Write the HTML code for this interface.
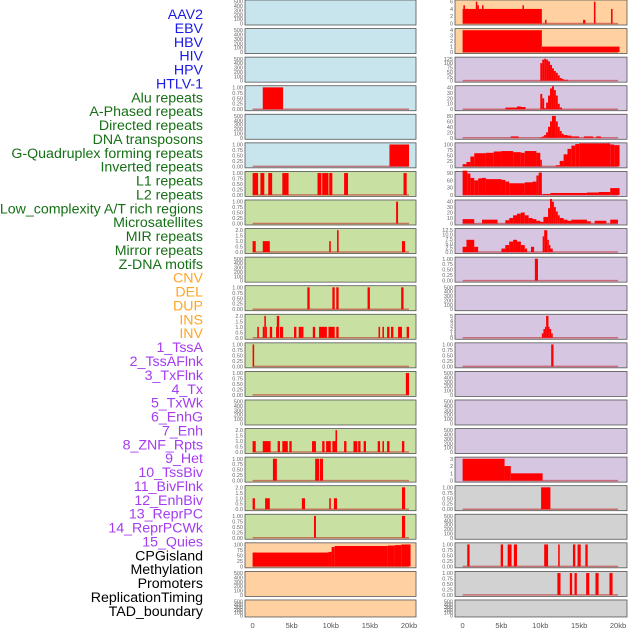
<!DOCTYPE html>
<html><head><meta charset="utf-8"><style>
html,body{margin:0;padding:0;background:#fff;}
svg{display:block;font-family:"Liberation Sans",sans-serif;}
</style></head><body>
<svg id="chart" width="630" height="630" viewBox="0 0 630 630"></svg>
<script>
// ---- data ----
const labels = ["AAV2","EBV","HBV","HIV","HPV","HTLV-1","Alu repeats","A-Phased repeats","Directed repeats","DNA transposons","G-Quadruplex forming repeats","Inverted repeats","L1 repeats","L2 repeats","Low_complexity A/T rich regions","Microsatellites","MIR repeats","Mirror repeats","Z-DNA motifs","CNV","DEL","DUP","INS","INV","1_TssA","2_TssAFlnk","3_TxFlnk","4_Tx","5_TxWk","6_EnhG","7_Enh","8_ZNF_Rpts","9_Het","10_TssBiv","11_BivFlnk","12_EnhBiv","13_ReprPC","14_ReprPCWk","15_Quies","CPGisland","Methylation","Promoters","ReplicationTiming","TAD_boundary"];
const labelGroups = ["virus","virus","virus","virus","virus","virus","repeat","repeat","repeat","repeat","repeat","repeat","repeat","repeat","repeat","repeat","repeat","repeat","repeat","sv","sv","sv","sv","sv","chrom","chrom","chrom","chrom","chrom","chrom","chrom","chrom","chrom","chrom","chrom","chrom","chrom","chrom","chrom","other","other","other","other","other"];
const xTicks = [0,5,10,15,20];
const xTickLabels = ["0","5kb","10kb","15kb","20kb"];
const leftBg  = ["blue","blue","blue","blue","blue","blue","green","green","green","green","green","green","green","green","green","green","green","green","green","orange","orange","orange"];
const rightBg = ["orange","orange","lav","lav","lav","lav","lav","lav","lav","lav","lav","lav","lav","lav","lav","lav","lav","gray","gray","gray","gray","gray"];
const T500=[0,100,200,300,400,500], T1=[0,0.25,0.5,0.75,1.0], T2=[0,0.5,1.0,1.5,2.0];
const leftTicks = [T500,T500,T500,T1,T500,T1,T1,T1,T2,T500,T1,T2,T1,T1,T500,T2,T1,T2,T1,[0,25,50,75,100],T500,T500];
const rightTicks = [[0,2,4,6],[0,1,2,3,4],[0,25,50,75,100,125],[0,10,20,30,40],[0,20,40,60,80],[0,25,50,75,100],[0,30,60,90],[0,10,20,30,40],[0,2.5,5,7.5,10,12.5],T1,T500,[0,1,2,3,4,5],T1,T500,T500,T500,[0,1,2,3],T1,T500,T1,T1,T500];
const leftTickFmt = [0,0,0,2,0,2,2,2,1,0,2,1,2,2,0,1,2,1,2,0,0,0];
const rightTickFmt = [0,0,0,0,0,0,0,0,1,2,0,0,2,0,0,0,0,2,0,2,2,0];
// segments [startKb, endKb, value]
const leftSegs = [
 [],[],[],
 [[1.3,3.9,1]],
 [],
 [[17.5,20,1]],
 [[0,0.7,1],[1.0,1.5,1],[2.0,2.5,1],[3.8,4.6,1],[8.3,8.8,1],[8.9,9.7,1],[9.8,10.2,1],[11.7,12.2,1],[19.3,19.7,1]],
 [[18.35,18.6,1]],
 [[0,0.4,1],[1.3,2.2,1],[9.8,10.0,1],[10.8,11.0,2],[19.1,19.5,1]],
 [],
 [[7.0,7.3,1],[10.2,10.5,1],[10.7,11.0,1],[14.7,15.0,1],[19.0,19.3,1]],
 [[0.6,0.8,1],[1.3,1.5,1],[1.5,1.7,2],[1.7,1.8,1],[2.2,2.5,1],[3.0,3.1,1],[3.1,3.4,2],[3.5,3.9,1],[5.3,5.6,1],[5.9,6.2,1],[6.2,6.5,1],[7.7,8.0,1],[8.5,9.5,1],[9.7,10.5,1],[10.7,11.0,1],[16.1,16.3,1],[16.6,16.8,1],[17.2,17.5,1],[17.7,18.0,1],[18.6,19.1,1],[19.7,20.0,1]],
 [[0,0.2,1]],
 [[19.6,20.0,1]],
 [],
 [[0,0.4,1],[1.3,2.3,1],[3.2,3.5,1],[3.8,4.5,1],[4.7,5.0,1],[7.6,8.1,1],[8.9,9.2,1],[9.4,10.0,1],[10.2,10.6,1],[10.6,10.8,2],[11.7,12.0,1],[12.9,13.4,1],[13.5,13.8,1],[14.2,14.5,1],[16.0,16.3,1],[16.6,16.8,1],[17.2,17.5,1],[19.1,19.4,1]],
 [[2.6,3.1,1],[8.0,8.5,1],[8.6,9.0,1]],
 [[0,0.3,1],[1.6,2.2,1],[6.3,6.7,1],[9.8,10.0,1],[10.4,10.8,1],[19.1,19.5,2]],
 [[7.85,8.1,1],[19.1,19.5,1]],
 [[0,9.7,63],[9.7,10.1,66],[10.1,10.5,88],[10.5,17.3,93],[17.3,18.2,95],[18.2,19.0,97],[19.0,20.2,100]],
 [],[]
];
const rightSegs = [
 [[0,10.2,4],[0.1,0.3,5],[1.7,1.9,6],[1.9,2.1,5],[2.5,2.7,5],[7.7,7.9,5],[10.6,10.8,1],[15.5,15.8,1],[16.9,17.1,6],[19.1,19.3,4]],
 [[0,10.2,4],[10.2,20.2,1]],
 [[10.0,10.25,100],[10.25,10.5,120],[10.5,10.75,125],[10.75,11.0,120],[11.0,11.25,110],[11.25,11.5,90],[11.5,11.75,70],[11.75,12.0,55],[12.0,12.25,45],[12.25,12.5,30],[12.5,12.75,15],[12.75,13.0,10],[13.0,13.6,5]],
 [[5.5,7.0,3],[7.0,7.5,5],[7.5,8.1,4],[10.0,10.25,28],[10.25,10.5,20],[10.5,10.75,2],[10.75,11.0,12],[11.0,11.25,25],[11.25,11.5,38],[11.5,11.75,42],[11.75,12.0,35],[12.0,12.25,25],[12.25,12.5,10],[12.5,12.8,3]],
 [[6.2,7.2,5],[10.0,10.25,2],[10.25,10.5,5],[10.5,10.75,10],[10.75,11.0,20],[11.0,11.25,40],[11.25,11.5,60],[11.5,12.0,80],[12.0,12.25,60],[12.25,12.5,40],[12.5,12.75,25],[12.75,13.0,15],[13.0,13.5,10],[13.5,14.0,8],[14.0,15.0,5],[15.6,16.8,5],[17.2,17.8,5]],
 [[0,0.5,10],[0.5,1.0,20],[1.0,1.5,45],[1.5,3.0,60],[3.0,4.0,62],[4.0,5.0,68],[5.0,6.5,70],[6.5,7.5,65],[7.5,8.0,62],[8.0,9.5,70],[9.5,10.0,62],[10.0,10.2,30],[12.0,12.5,5],[12.5,13.0,25],[13.0,13.5,55],[13.5,14.0,80],[14.0,14.5,95],[14.5,15.0,102],[15.0,19.0,105],[19.0,19.5,100],[19.5,20.2,97]],
 [[0,0.6,100],[0.6,1.0,88],[1.0,1.5,70],[1.5,2.0,60],[2.0,2.5,68],[2.5,3.0,70],[3.0,5.0,65],[5.0,5.5,62],[5.5,6.0,55],[6.0,7.0,48],[7.0,8.0,48],[8.0,9.0,52],[9.0,9.5,55],[9.5,9.8,80],[9.8,10.2,92],[10.3,11.3,4],[11.3,16.0,8],[16.0,17.5,10],[17.5,19.0,12],[19.0,20.2,28]],
 [[0,1.5,8],[2.5,4.5,7],[5.5,6.0,6],[6.0,6.5,10],[6.5,7.0,15],[7.0,7.5,18],[7.5,8.0,20],[8.0,8.5,15],[8.5,9.0,10],[9.0,9.5,8],[9.5,10.0,5],[10.0,10.4,3],[10.4,11.0,12],[11.0,11.25,28],[11.25,11.5,45],[11.5,11.75,40],[11.75,12.0,30],[12.0,12.25,22],[12.25,12.5,15],[12.5,13.0,10],[13.0,13.5,7],[13.5,14.0,5],[14.0,16.0,7],[16.0,16.5,4],[17.0,18.5,5],[19.0,20.0,7]],
 [[0,0.5,3],[0.5,1.5,7],[1.5,2.0,3],[5.0,5.5,2],[5.5,6.0,4],[6.0,6.5,6],[6.5,7.0,7],[7.0,7.5,6],[7.5,8.0,4],[8.0,8.3,2],[8.8,9.2,3],[10.3,10.5,9],[10.5,10.9,12.5],[10.9,11.1,7],[11.1,11.3,4],[11.3,11.6,2]],
 [[9.3,9.7,1]],
 [],
 [[10.2,10.4,1],[10.4,10.6,2],[10.6,10.75,2.5],[10.75,11.05,5],[11.05,11.2,2.5],[11.2,11.4,2],[11.4,11.6,1]],
 [[11.4,11.7,1]],
 [],[],[],
 [[0,5.4,3],[5.4,6.2,2],[6.2,10.3,1]],
 [[10.1,11.3,1]],
 [],
 [[0.6,0.9,1],[4.9,5.2,1],[5.8,6.3,1],[6.6,7.0,1],[10.5,11.0,1],[12.3,12.5,1],[14.2,14.5,1],[14.8,15.2,1],[15.8,16.1,1]],
 [[12.2,12.6,1],[13.8,14.1,1],[14.4,14.7,1],[15.9,16.3,1],[17.1,17.5,1],[18.9,19.3,1]],
 []
];
// ---- rendering ----
const NS="http://www.w3.org/2000/svg";
const svg=document.getElementById('chart');
const bgColors={blue:"#c8e4ec",green:"#c8e0a2",orange:"#ffd1a0",lav:"#d7c6e2",gray:"#d2d2d2"};
const labelColors={virus:"#1a1ae6",repeat:"#157015",sv:"#ffa526",chrom:"#a43cf0",other:"#000000"};
const ROWS=22, rowStep=28.57, panelH=25;
function mk(tag,attrs){const e=document.createElementNS(NS,tag);for(const k in attrs)e.setAttribute(k,attrs[k]);svg.appendChild(e);return e;}
function xScaleFor(col){return col===0?(kb=>252.6+kb*7.82):(kb=>462.6+kb*7.77);}
function rowTop(r){return r*rowStep;}
function rowH(r){return r===ROWS-1?17:panelH;}

labels.forEach((t,i)=>{
  const e=mk('text',{x:203,y:14+i*13.88+5,'text-anchor':'end','font-size':14.2,fill:labelColors[labelGroups[i]]});
  e.textContent=t;
  
  
});

function drawPanel(col,r){
  const x0=col===0?245:455, x1=col===0?416:627;
  const top=rowTop(r), h=rowH(r);
  const bg=col===0?leftBg[r]:rightBg[r];
  const ticks=col===0?leftTicks[r]:rightTicks[r];
  const fmt=col===0?leftTickFmt[r]:rightTickFmt[r];
  const segs=col===0?leftSegs[r]:rightSegs[r];
  const xs=xScaleFor(col);
  const tmax=ticks[ticks.length-1];
  const yb=top+h-1.5, yt=top+1.2;
  const ys=v=>yb-(v/(tmax*1.02))*(yb-yt);
  const rect=mk('rect',{x:x0,y:top,width:x1-x0,height:h,fill:bgColors[bg],stroke:'#555',"stroke-width":0.8});
  
  
  ticks.forEach(v=>{
    const t=mk('text',{x:x0-2,y:ys(v)+2,'text-anchor':'end','font-size':5.5,fill:'#666'});
    t.textContent=v.toFixed(fmt);
    
    
  });
  if(segs.length){
    const bl=mk('line',{x1:xs(0),x2:xs(20),y1:yb,y2:yb,stroke:'#c03030','stroke-width':1.5,'stroke-opacity':0.6});
    
    
  }
  segs.forEach(s=>{
    const b=mk('rect',{x:xs(s[0]),y:ys(s[2]),width:Math.max(1,xs(s[1])-xs(s[0])),height:yb-ys(s[2]),fill:'#ff0000'});
    
    
  });
}
for(let r=0;r<ROWS;r++){drawPanel(0,r);drawPanel(1,r);}
[0,1].forEach(col=>{
  const xs=xScaleFor(col);
  xTicks.forEach((v,i)=>{
    const t=mk('text',{x:xs(v),y:628,'text-anchor':'middle','font-size':7.5,fill:'#555'});
    t.textContent=xTickLabels[i];
    
    
  });
});
</script>
</body></html>
